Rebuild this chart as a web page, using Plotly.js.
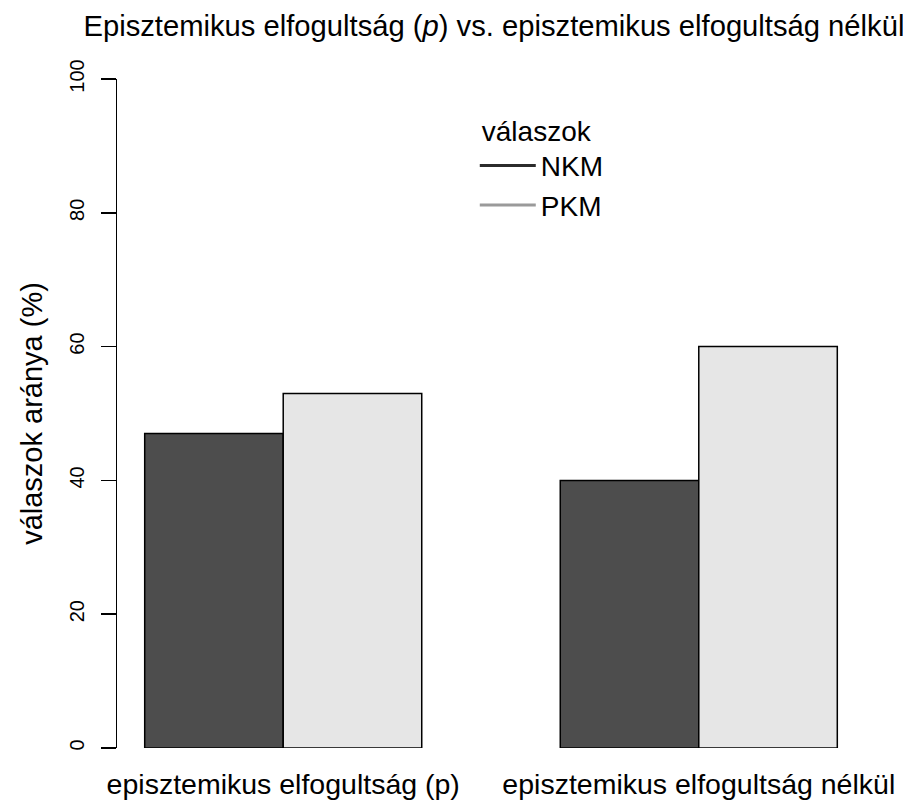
<!DOCTYPE html>
<html>
<head>
<meta charset="utf-8">
<script src="https://cdn.plot.ly/plotly-3.0.1.min.js"></script>
<style>html,body{margin:0;padding:0;background:#fff;}#chart{width:903px;height:802px;}</style>
</head>
<body>
<div id="chart"></div>
<script>
const categories = ["episztemikus elfogultság (p)", "episztemikus elfogultság nélkül"];
const seriesNames = ["NKM", "PKM"];
const nkmValues = [47, 40];
const pkmValues = [53, 60];
const yTickVals = [0, 20, 40, 60, 80, 100];
const yTickText = ["0", "20", "40", "60", "80", "100"];

const fontFamily = "'Liberation Sans', Arial, Helvetica, sans-serif";

const traces = [
  {type: "bar", x: categories, y: nkmValues, name: seriesNames[0], showlegend: false,
   marker: {color: "#4d4d4d", line: {color: "#000", width: 1.5}}},
  {type: "bar", x: categories, y: pkmValues, name: seriesNames[1], showlegend: false,
   marker: {color: "#e6e6e6", line: {color: "#000", width: 1.5}}},
  {type: "scatter", mode: "lines", x: [null], y: [null], name: seriesNames[0], showlegend: true,
   line: {color: "#2b2b2b", width: 3}, hoverinfo: "skip"},
  {type: "scatter", mode: "lines", x: [null], y: [null], name: seriesNames[1], showlegend: true,
   line: {color: "#9a9a9a", width: 3}, hoverinfo: "skip"}
];

const layout = {
  width: 903, height: 802,
  margin: {l: 117, r: 38, t: 79, b: 54},
  paper_bgcolor: "#fff", plot_bgcolor: "#fff",
  font: {family: fontFamily, color: "#000", size: 28},
  barmode: "group", bargap: 1/3, bargroupgap: 0,
  title: {text: "Episztemikus elfogultság (<i>p</i>) vs. episztemikus elfogultság nélkül",
          font: {size: 29.2, family: fontFamily, color: "#000"},
          x: 0.547, xref: "container", xanchor: "center", y: 0.968, yref: "container", yanchor: "middle"},
  xaxis: {type: "category", range: [-0.4, 1.4], showline: false, showgrid: false, zeroline: false,
          ticks: "outside", ticklen: 11, tickcolor: "rgba(0,0,0,0)",
          tickfont: {size: 28.5, family: fontFamily}, automargin: false, fixedrange: true},
  yaxis: {range: [0, 100], tickvals: yTickVals, ticktext: yTickText, showline: true, linecolor: "#000", linewidth: 1.5,
          showgrid: false, zeroline: false, ticks: "outside", ticklen: 15, tickwidth: 1.5, tickcolor: "#000",
          tickangle: -90, tickfont: {size: 20, family: fontFamily}, ticklabelstandoff: 9,
          title: {text: "válaszok aránya (%)", font: {size: 29, family: fontFamily}, standoff: 14},
          automargin: false, fixedrange: true},
  legend: {x: 0.485, xanchor: "left", y: 0.962, yanchor: "top", bgcolor: "rgba(0,0,0,0)",
           indentation: -15,
           title: {text: "válaszok", font: {size: 28, family: fontFamily}},
           font: {size: 28, family: fontFamily}, itemwidth: 66, tracegroupgap: 0}
};

Plotly.newPlot("chart", traces, layout, {staticPlot: true, displayModeBar: false});
</script>
</body>
</html>
